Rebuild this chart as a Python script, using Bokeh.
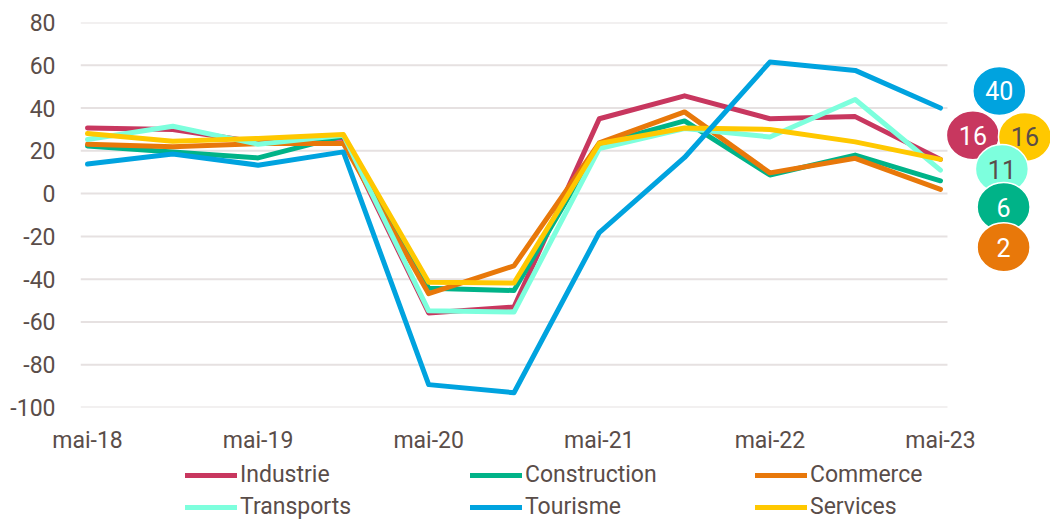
from bokeh.plotting import figure
from bokeh.layouts import column
from bokeh.models import FixedTicker, Legend, LegendItem, ColumnDataSource, Range1d
from bokeh.core.properties import value
from bokeh.embed import file_html
from bokeh.resources import INLINE

# ---------------- data ----------------
categories = ["mai-18", "nov-18", "mai-19", "nov-19", "mai-20", "nov-20",
              "mai-21", "nov-21", "mai-22", "nov-22", "mai-23"]
industrie = [30.7, 30.0, 24.0, 26.0, -55.8, -53.0, 35.0, 45.7, 35.0, 36.0, 16]
construction = [22.3, 19.5, 16.7, 27.0, -44.2, -45.3, 23.0, 34.0, 8.7, 18.0, 6]
commerce = [23.1, 21.9, 23.4, 23.4, -46.8, -33.8, 23.7, 38.2, 9.7, 16.5, 2]
transports = [25.3, 31.5, 23.1, 27.3, -54.8, -55.4, 21.1, 30.4, 26.5, 44.0, 11]
tourisme = [13.8, 18.5, 13.3, 19.5, -89.3, -93.1, -18.2, 16.9, 61.5, 57.6, 40]
services = [28.1, 24.5, 25.8, 27.6, -41.4, -41.8, 23.4, 30.7, 30.0, 24.2, 16]
series_names = ["Industrie", "Construction", "Commerce", "Transports", "Tourisme", "Services"]
y_ticks = [-100, -80, -60, -40, -20, 0, 20, 40, 60, 80]
x_tick_labels = ["mai-18", "mai-19", "mai-20", "mai-21", "mai-22", "mai-23"]

# ---------------- style ----------------
FONT = "Roboto"
TXT = "#5A4D49"
GRID = "#E6E1E1"
colors = {
    "Industrie": "#C8375F",
    "Construction": "#00B388",
    "Commerce": "#E8780A",
    "Transports": "#7DFFDD",
    "Tourisme": "#00A3DF",
    "Services": "#FFC800",
}
values = {
    "Industrie": industrie, "Construction": construction, "Commerce": commerce,
    "Transports": transports, "Tourisme": tourisme, "Services": services,
}
draw_order = ["Industrie", "Construction", "Commerce", "Transports", "Services", "Tourisme"]
pad = 0.082
n = len(categories)
xs = list(range(n))

W = 1050
p = figure(width=W, height=456, output_backend="svg", toolbar_location=None,
           x_range=Range1d(-pad, 11.29), y_range=Range1d(-100, 80),
           min_border_left=80, min_border_right=0, min_border_top=22,
           min_border_bottom=48)
p.outline_line_color = None
p.xgrid.visible = False
p.ygrid.visible = False
p.background_fill_color = "white"
p.border_fill_color = "white"

# grid lines limited to the category span
p.segment(x0=[-pad] * len(y_ticks), x1=[n - 1 + pad] * len(y_ticks),
          y0=y_ticks, y1=y_ticks, line_color=GRID, line_width=2)

for name in draw_order:
    p.line(xs, values[name], line_color=colors[name], line_width=5,
           line_cap="round", line_join="round")

# axes
p.yaxis.ticker = FixedTicker(ticks=y_ticks)
p.yaxis.major_label_overrides = {t: str(t) for t in y_ticks}
p.yaxis.axis_line_color = None
p.yaxis.major_tick_line_color = None
p.yaxis.minor_tick_line_color = None
p.yaxis.major_tick_out = 0
p.yaxis.major_tick_in = 0
p.yaxis.major_label_standoff = 25
p.yaxis.major_label_text_font = FONT
p.yaxis.major_label_text_font_size = "23px"
p.yaxis.major_label_text_color = TXT

tick_pos = [categories.index(c) for c in x_tick_labels]
p.xaxis.ticker = FixedTicker(ticks=tick_pos)
p.xaxis.major_label_overrides = {i: categories[i] for i in tick_pos}
p.xaxis.axis_line_color = None
p.xaxis.major_tick_line_color = None
p.xaxis.minor_tick_line_color = None
p.xaxis.major_tick_out = 0
p.xaxis.major_tick_in = 0
p.xaxis.major_label_standoff = 19
p.xaxis.major_label_text_font = FONT
p.xaxis.major_label_text_font_size = "23px"
p.xaxis.major_label_text_color = TXT

# end-value bubbles (label layout positions, index / value units)
bubble_order = ["Tourisme", "Industrie", "Services", "Transports", "Construction", "Commerce"]
bubble_x = [10.69, 10.38, 10.99, 10.72, 10.74, 10.74]
bubble_y = [48.0, 27.3, 26.5, 11.5, -6.3, -25.1]
bubble_txt_col = {"Services": TXT, "Transports": TXT}
src = ColumnDataSource(dict(
    x=bubble_x, y=bubble_y,
    fill=[colors[s] for s in bubble_order],
    label=[str(int(round(values[s][-1]))) for s in bubble_order],
    tcol=[bubble_txt_col.get(s, "white") for s in bubble_order],
))
p.ellipse(x="x", y="y", width=53, height=49, width_units="screen", height_units="screen",
          fill_color="fill", line_color="white", line_width=1.5, source=src)
p.text(x="x", y="y", text="label", text_color="tcol", text_align="center",
       text_baseline="middle", text_font=value(FONT), text_font_size="25px", source=src)

# ---------------- legend strip ----------------
H2 = 64
lg = figure(width=W, height=H2, output_backend="svg", toolbar_location=None,
            x_range=Range1d(0, W), y_range=Range1d(0, H2),
            min_border_left=0, min_border_right=0, min_border_top=0, min_border_bottom=0)
lg.axis.visible = False
lg.xgrid.visible = False
lg.ygrid.visible = False
lg.outline_line_color = None
lg.background_fill_color = "white"
lg.border_fill_color = "white"
items = []
for name in series_names:
    # off-screen proxy line, only used for the legend swatch
    r = lg.line(x=[-50, -40], y=[-50, -50], line_color=colors[name], line_width=5,
                line_cap="round")
    items.append(LegendItem(label=name, renderers=[r]))
legend = Legend(items=items, orientation="horizontal", ncols=3, location=(105, 0),
                label_text_font=FONT, label_text_font_size="23px", label_text_color=TXT,
                glyph_width=52, glyph_height=26, label_height=26, label_standoff=3,
                label_width=225, spacing=5, padding=0, margin=0,
                border_line_color=None, background_fill_alpha=0)
lg.add_layout(legend, "center")

layout = column(p, lg, spacing=0)
open("out.html", "w").write(file_html(layout, INLINE))
